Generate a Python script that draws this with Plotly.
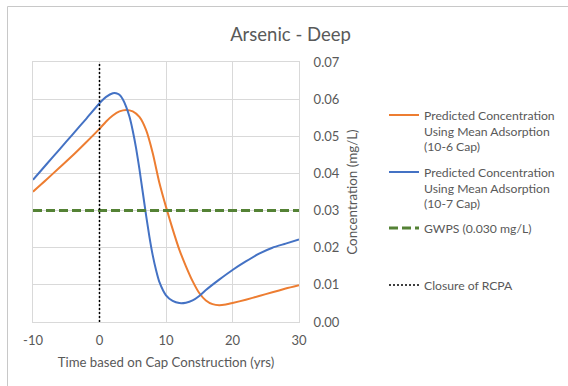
import plotly.graph_objects as go

# Time relative to cap construction (years) and predicted arsenic concentrations (mg/L)
years_10_6 = [-10, -8, -6, -4, -2, 0, 1, 2, 3, 4, 5, 6, 7, 8, 9, 10, 11, 12, 13, 14,
              15, 16, 17, 18, 19, 20, 22, 24, 26, 28, 30]
conc_10_6 = [0.0351, 0.0383, 0.0416, 0.0449, 0.0484, 0.0520, 0.0540, 0.0556, 0.0567,
             0.0571, 0.0567, 0.0552, 0.0517, 0.0455, 0.0375, 0.0310, 0.0250, 0.0195,
             0.0150, 0.0110, 0.0078, 0.0058, 0.0048, 0.0045, 0.0047, 0.0051, 0.0060,
             0.0070, 0.0080, 0.0090, 0.0099]

years_10_7 = [-10, -8, -6, -4, -2, 0, 1, 2, 2.5, 3, 3.5, 4, 4.5, 5, 5.5, 6, 6.5, 7,
              7.5, 8, 8.5, 9, 10, 11, 12, 13, 14, 15, 16, 18, 20, 22, 24, 26, 28, 30]
conc_10_7 = [0.0383, 0.0424, 0.0465, 0.0506, 0.0547, 0.0589, 0.0606, 0.0616, 0.0616,
             0.0612, 0.0600, 0.0580, 0.0553, 0.0515, 0.0468, 0.0412, 0.0350, 0.0288,
             0.0230, 0.0180, 0.0140, 0.0108, 0.0072, 0.0057, 0.0051, 0.0052, 0.0058,
             0.0070, 0.0086, 0.0114, 0.0140, 0.0163, 0.0184, 0.0200, 0.0211, 0.0222]

gwps_x = [-10, 30]
gwps_y = [0.030, 0.030]

closure_x = [0, 0]
closure_y = [0.0, 0.07]

x_ticks = [-10, 0, 10, 20, 30]
x_tick_labels = ["-10", "0", "10", "20", "30"]
y_ticks = [0.00, 0.01, 0.02, 0.03, 0.04, 0.05, 0.06, 0.07]

FONT = "Lato"
TEXT = "#595959"
GRID = "#D9D9D9"

W, H = 568, 386
L, R, T, B = 33, 269, 62, 64
pw, ph = W - L - R, H - T - B


def px_x(p):
    return (p - L) / pw


def px_y(p):
    return (H - B - p) / ph


fig = go.Figure()

fig.add_trace(go.Scatter(
    x=years_10_6, y=conc_10_6, mode="lines", line=dict(color="#ED7D31", width=2, shape="spline", smoothing=0.6),
    name="Predicted Concentration<br>Using Mean Adsorption<br>(10-6 Cap)", legend="legend"))
fig.add_trace(go.Scatter(
    x=years_10_7, y=conc_10_7, mode="lines", line=dict(color="#4472C4", width=2, shape="spline", smoothing=0.6),
    name="Predicted Concentration<br>Using Mean Adsorption<br>(10-7 Cap)", legend="legend2"))
fig.add_trace(go.Scatter(
    x=gwps_x, y=gwps_y, mode="lines", line=dict(color="#548235", width=3, dash="9px,4px"),
    name="GWPS (0.030 mg/L)", legend="legend3"))
fig.add_trace(go.Scatter(
    x=closure_x, y=closure_y, mode="lines", line=dict(color="#000000", width=1.5, dash="2px,2px"),
    name="Closure of RCPA", legend="legend4"))

leg_common = dict(xref="paper", yref="paper", xanchor="left", yanchor="middle", valign="top",
                  font=dict(family=FONT, size=12.2, color=TEXT), bgcolor="rgba(0,0,0,0)",
                  itemwidth=30, tracegroupgap=0)
legend_x = px_x(384)

fig.update_layout(
    width=W, height=H,
    margin=dict(l=L, r=R, t=T, b=B, autoexpand=False),
    paper_bgcolor="white", plot_bgcolor="white",
    font=dict(family=FONT, color=TEXT, size=12),
    title=dict(text="Arsenic - Deep", x=px_x(290.5), xref="paper", xanchor="center",
               y=1 - 35 / H, yanchor="middle", font=dict(family=FONT, size=18.5, color=TEXT)),
    xaxis=dict(range=[-10, 30], tickvals=x_ticks, ticktext=x_tick_labels, showgrid=True,
               gridcolor=GRID, gridwidth=1, showline=True, linecolor=GRID, mirror=True,
               zeroline=False, ticks="", tickfont=dict(family=FONT, size=13, color=TEXT),
               ticklabelstandoff=6,
               title=dict(text="Time based on Cap Construction (yrs)", standoff=11,
                          font=dict(family=FONT, size=13.2, color=TEXT))),
    yaxis=dict(range=[0, 0.07], tickvals=y_ticks, tickformat=".2f", side="right",
               showgrid=True, gridcolor=GRID, gridwidth=1, showline=True, linecolor=GRID,
               mirror=True, zeroline=False, ticks="", ticklabelstandoff=11,
               tickfont=dict(family=FONT, size=13, color=TEXT),
               title=dict(text="Concentration (mg/L)", standoff=8,
                          font=dict(family=FONT, size=13.4, color=TEXT))),
    legend=dict(x=legend_x, y=px_y(131), **leg_common),
    legend2=dict(x=legend_x, y=px_y(188), **leg_common),
    legend3=dict(x=legend_x, y=px_y(228), **leg_common),
    legend4=dict(x=legend_x, y=px_y(285), **leg_common),
    showlegend=True,
)

# Light frame around the chart area
fig.add_shape(type="rect", xref="paper", yref="paper",
              x0=px_x(7.5), x1=px_x(W + 20), y0=px_y(H + 20), y1=px_y(6.5),
              line=dict(color="#C8C8C8", width=1), fillcolor="rgba(0,0,0,0)", layer="below")

fig.write_html("out.html")
